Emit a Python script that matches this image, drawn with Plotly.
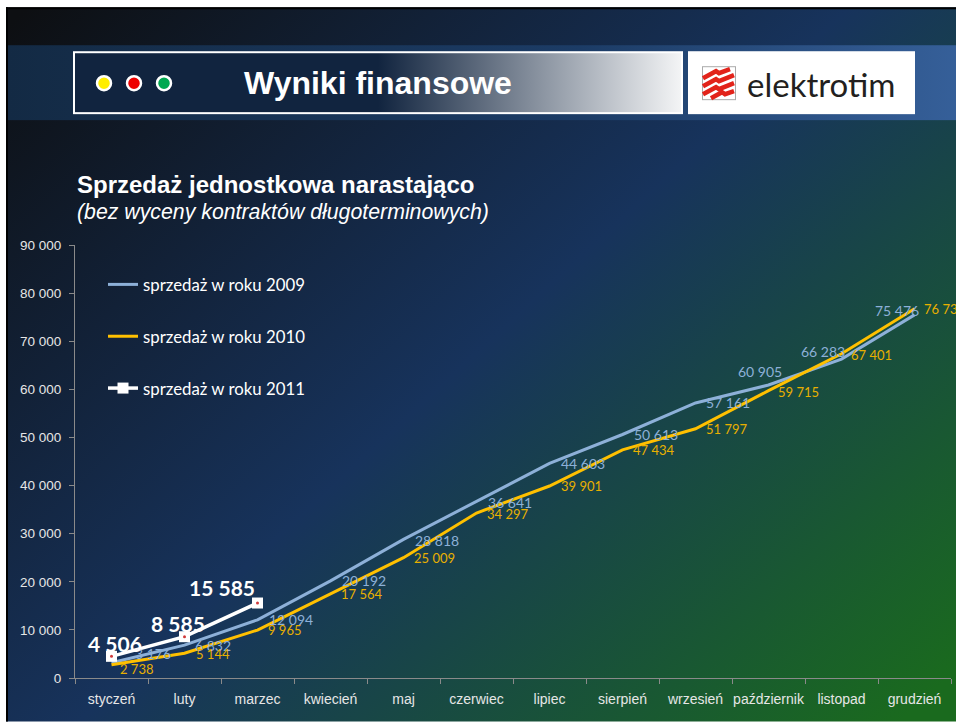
import base64
import plotly.graph_objects as go

categories = ["styczeń","luty","marzec","kwiecień","maj","czerwiec","lipiec","sierpień","wrzesień","październik","listopad","grudzień"]
sales_2009 = [3176,6832,12094,20192,28818,36641,44603,50613,57161,60905,66283,75476]
sales_2010 = [2738,5144,9965,17564,25009,34297,39901,47434,51797,59715,67401,76730]
sales_2011 = [4506,8585,15585]
labels_2010 = ["2 738","5 144","9 965","17 564","25 009","34 297","39 901","47 434","51 797","59 715","67 401","76 73"]
labels_2009 = ["3 176","6 832","12 094","20 192","28 818","36 641","44 603","50 613","57 161","60 905","66 283","75 476"]
labels_2011 = ["4 506","8 585","15 585"]

W, H = 956, 722
L, R, T, B = 75, 951, 245, 678.5

svg = f'''<svg xmlns="http://www.w3.org/2000/svg" width="{W}" height="{H}" viewBox="0 0 {W} {H}">
<defs>
<linearGradient id="bg" gradientUnits="userSpaceOnUse" x1="100" y1="-60" x2="860" y2="760">
<stop offset="0" stop-color="#0d0f12"/><stop offset="0.5" stop-color="#17335c"/><stop offset="1" stop-color="#1a6a1e"/></linearGradient>
<linearGradient id="box" x1="0" x2="1" y1="0" y2="0">
<stop offset="0" stop-color="#11243f"/><stop offset="0.5" stop-color="#11243f"/><stop offset="1" stop-color="#f4f5f6"/></linearGradient>
<linearGradient id="band" x1="0" x2="1" y1="0" y2="0">
<stop offset="0" stop-color="#132a44"/><stop offset="0.6" stop-color="#1c3c66"/><stop offset="1" stop-color="#36609a"/></linearGradient>
</defs>
<rect width="{W}" height="{H}" fill="#ffffff"/>
<rect x="6" y="7" width="{W}" height="{H}" fill="url(#bg)"/>
<rect x="6" y="7" width="{W}" height="2" fill="#000"/>
<rect x="6" y="7" width="2" height="{H}" fill="#000"/>
<rect x="8" y="45" width="{W}" height="75" fill="url(#band)"/>
<rect x="74" y="52" width="608" height="61" fill="url(#box)" stroke="#ffffff" stroke-width="2"/>
<circle cx="104" cy="83" r="7" fill="#ffee00" stroke="#fff" stroke-width="2.5"/>
<circle cx="134" cy="83" r="7" fill="#ee0000" stroke="#fff" stroke-width="2.5"/>
<circle cx="164" cy="83" r="7" fill="#00a850" stroke="#fff" stroke-width="2.5"/>
<rect x="688" y="51" width="227" height="63" fill="#ffffff"/>
<rect x="702.5" y="66.5" width="33" height="33" fill="none" stroke="#aaaaaa"/>
<g stroke="#e2231a" stroke-width="4.5" fill="none">
<path d="M703 78 L716 71 L719 73 L730 69"/>
<path d="M703 86 L716 79 L719 81 L734 75"/>
<path d="M703 94 L716 87 L719 89 L734 83"/>
<path d="M711 98 L722 92 L725 94 L734 91"/>
</g>
</svg>'''
bg = "data:image/svg+xml;base64," + base64.b64encode(svg.encode()).decode()

fig = go.Figure()
fig.add_trace(go.Scatter(x=categories, y=sales_2009, mode="lines", name="sprzedaż w roku 2009",
                         line=dict(color="#8db0d8", width=3), legendgroup="a"))
fig.add_trace(go.Scatter(x=categories, y=sales_2010, mode="lines", name="sprzedaż w roku 2010",
                         line=dict(color="#ffc000", width=3), legendgroup="b"))
fig.add_trace(go.Scatter(x=categories[:3], y=sales_2011, mode="lines+markers", name="sprzedaż w roku 2011",
                         line=dict(color="#ffffff", width=3.5),
                         marker=dict(symbol="square", size=11, color="#ffffff"), legendgroup="c"))
fig.add_trace(go.Scatter(x=categories[:3], y=sales_2011, mode="markers", showlegend=False,
                         marker=dict(symbol="circle", size=3, color="#d0393a"), legendgroup="c"))

off_2009 = [(41,9),(28,0),(33,0),(33,0),(33,-1),(33,-1),(33,0),(33,0),(32,0),(-9,13),(-19,8),(-18,4)]
off_2010 = [(25,-4),(28,-1),(27,0),(31,0),(31,0),(31,-1),(32,0),(31,0),(31,0),(30,-1),(30,-1),(26,0)]
off_2011 = [(3,13),(-7,13),(-36,16)]
ann = []
def lab(xs, ys, texts, offs, color, size, bold=False):
    for x, y, t, (dx, dy) in zip(xs, ys, texts, offs):
        ann.append(dict(x=x, y=y, xref="x", yref="y", text=f"<b>{t}</b>" if bold else t, showarrow=False,
                        xshift=dx, yshift=dy, font=dict(family="Lato", size=size, color=color)))
lab(categories, sales_2009, labels_2009, off_2009, "#8db0d8", 14)
lab(categories, sales_2010, labels_2010, off_2010, "#e8b000", 13)
lab(categories, sales_2011, labels_2011, off_2011, "#ffffff", 21, True)

def text(px, py, t, size, family="Liberation Sans", color="#ffffff", anchor="left"):
    ann.append(dict(xref="paper", yref="paper", x=(px-L)/(R-L), y=(B-py)/(B-T), text=t, showarrow=False,
                    xanchor=anchor, yanchor="middle", font=dict(family=family, size=size, color=color)))
text(378, 83, "<b>Wyniki finansowe</b>", 32, anchor="center")
text(745, 84, "elektrotim", 33, family="Lato", color="#231f20")
text(75, 184, "<b>Sprzedaż jednostkowa narastająco</b>", 24)
text(75, 212, "<i>(bez wyceny kontraktów długoterminowych)</i>", 21.3)

axis_color = "#8a8a8a"
fig.update_layout(
    width=W, height=H, autosize=False,
    margin=dict(l=L, r=W-R, t=T, b=H-B, pad=0),
    paper_bgcolor="#ffffff", plot_bgcolor="rgba(0,0,0,0)",
    separators=", ",
    images=[dict(source=bg, xref="paper", yref="paper", x=-L/(R-L), y=(B)/(B-T), sizex=W/(R-L), sizey=H/(B-T),
                 xanchor="left", yanchor="top", sizing="stretch", layer="below")],
    annotations=ann,
    showlegend=True,
    legend=dict(x=(103-L)/(R-L), y=(B-267)/(B-T), xanchor="left", yanchor="top", bgcolor="rgba(0,0,0,0)",
                font=dict(family="Lato", size=16.8, color="#ffffff"), tracegroupgap=27, itemwidth=30,
                itemclick=False, itemdoubleclick=False),
    xaxis=dict(type="category", categoryorder="array", categoryarray=categories, range=[-0.5, 11.5],
               showgrid=False, showline=True, linecolor=axis_color, linewidth=1, ticks="outside", ticklen=5,
               tickcolor=axis_color, tickson="boundaries", tickangle=0, automargin=False, ticklabelstandoff=8,
               tickfont=dict(family="Liberation Sans", size=14, color="#e6e6e6"), zeroline=False),
    yaxis=dict(range=[0, 90000], dtick=10000, tickformat=",d", showgrid=False, showline=True, linecolor=axis_color,
               linewidth=1, ticks="outside", ticklen=5, tickcolor=axis_color, automargin=False, ticklabelstandoff=5,
               tickfont=dict(family="Liberation Sans", size=13.5, color="#e6e6e6"), zeroline=False),
)
fig.write_html("out.html", config=dict(displayModeBar=False),
               post_script="document.body.style.margin='0';document.body.style.overflow='hidden';")
